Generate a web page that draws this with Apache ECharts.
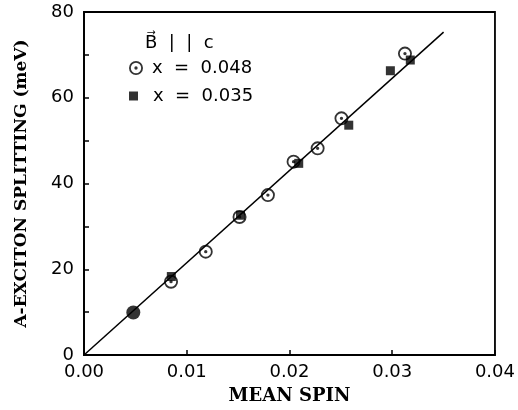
<!DOCTYPE html>
<html>
<head>
<meta charset="utf-8">
<script src="https://cdn.jsdelivr.net/npm/echarts@6/dist/echarts.min.js"></script>
<style>
html, body { margin: 0; padding: 0; background: #fff; }
#main { width: 518px; height: 410px; }
</style>
</head>
<body>
<div id="main"></div>
<script>
// data
var spin048 = [0.00847, 0.01185, 0.01514, 0.0179, 0.0204, 0.02274, 0.02506, 0.03124];
var split048 = [17.1, 24.1, 32.2, 37.3, 45.1, 48.2, 55.2, 70.3];
var spin035 = [0.0085, 0.01523, 0.0209, 0.02577, 0.02982, 0.03176];
var split035 = [18.3, 32.6, 44.7, 53.6, 66.3, 68.8];
// both samples at the same spot, drawn as one filled dot
var spinBoth = [0.0048];
var splitBoth = [9.9];
var fitSpin = [0, 0.035];
var fitSplit = [0, 75.3];
var name048 = 'x  =  0.048';
var name035 = 'x  =  0.035';

function pairs(xs, ys) {
    var out = [];
    for (var i = 0; i < xs.length; i++) out.push([xs[i], ys[i]]);
    return out;
}

// ring with a dot in the middle
var ringDot = 'path://M0 -10A10 10 0 1 1 0 10A10 10 0 1 1 0 -10Z' +
    'M0 -7.4A7.4 7.4 0 1 0 0 7.4A7.4 7.4 0 1 0 0 -7.4Z' +
    'M0 -2.4A2.4 2.4 0 1 1 0 2.4A2.4 2.4 0 1 1 0 -2.4Z';

var myChart = echarts.init(document.getElementById('main'));
var axisFont = 'DejaVu Sans';
var titleFont = 'DejaVu Serif';

var option = {
    animation: false,
    backgroundColor: '#fff',
    title: {
        text: 'B\u20D7  |  |  c',
        left: 140,
        top: 29,
        textStyle: { fontFamily: axisFont, fontSize: 18, fontWeight: 'normal', color: '#000' }
    },
    legend: [{
        data: [name048],
        left: 124,
        top: 54,
        itemWidth: 14,
        itemHeight: 14,
        textStyle: { fontFamily: axisFont, fontSize: 18, color: '#000', padding: [0, 0, 0, 4] }
    }, {
        data: [name035],
        left: 124,
        top: 82,
        itemWidth: 9,
        itemHeight: 9,
        textStyle: { fontFamily: axisFont, fontSize: 18, color: '#000', padding: [0, 0, 0, 10] }
    }],
    grid: {
        left: 84,
        right: 20,
        top: 12,
        bottom: 55,
        show: true,
        borderColor: '#000',
        borderWidth: 1.8,
        backgroundColor: '#fff'
    },
    xAxis: {
        type: 'value',
        min: 0,
        max: 0.04,
        interval: 0.01,
        name: 'MEAN SPIN',
        nameLocation: 'middle',
        nameGap: 32,
        nameTextStyle: { fontFamily: titleFont, fontSize: 18, fontWeight: 'bold', color: '#000' },
        axisLine: { lineStyle: { color: '#000', width: 1.8 } },
        axisTick: { inside: true, length: 5, lineStyle: { color: '#000', width: 1.5 } },
        axisLabel: {
            margin: 8,
            fontFamily: axisFont,
            fontSize: 18,
            color: '#000',
            formatter: function (v) { return v.toFixed(2); }
        },
        splitLine: { show: false }
    },
    yAxis: {
        type: 'value',
        min: 0,
        max: 80,
        interval: 20,
        name: 'A-EXCITON SPLITTING (meV)',
        nameLocation: 'middle',
        nameGap: 54,
        nameTextStyle: { fontFamily: titleFont, fontSize: 17, fontWeight: 'bold', color: '#000' },
        axisLine: { lineStyle: { color: '#000', width: 1.8 } },
        axisTick: { inside: true, length: 5, lineStyle: { color: '#000', width: 1.5 } },
        minorTick: { show: true, splitNumber: 2, length: 5, lineStyle: { color: '#000', width: 1.5 } },
        axisLabel: { margin: 10, fontFamily: axisFont, fontSize: 18, color: '#000' },
        splitLine: { show: false }
    },
    series: [{
        name: 'fit',
        type: 'line',
        data: pairs(fitSpin, fitSplit),
        symbol: 'none',
        lineStyle: { color: '#000', width: 1.5 },
        z: 1
    }, {
        name: name048,
        type: 'scatter',
        data: pairs(spin048, split048),
        symbol: ringDot,
        symbolSize: 14,
        itemStyle: { color: '#000' },
        z: 3
    }, {
        name: name035,
        type: 'scatter',
        data: pairs(spin035, split035),
        symbol: 'rect',
        symbolSize: 9,
        itemStyle: { color: '#000' },
        z: 4
    }, {
        name: 'both',
        type: 'scatter',
        data: pairs(spinBoth, splitBoth),
        symbol: 'circle',
        symbolSize: 14,
        itemStyle: { color: '#000' },
        z: 4
    }]
};

myChart.setOption(option);
</script>
</body>
</html>
